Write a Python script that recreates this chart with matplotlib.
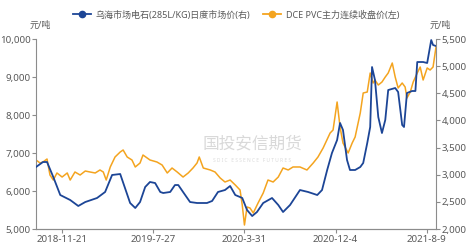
"""
PVC futures vs Wuhai calcium carbide spot price, dual axis line chart.
Saves: out.png (472x250)
"""

import pandas as pd
import matplotlib.pyplot as plt
import matplotlib.dates as mdates
from matplotlib.patches import Rectangle
from matplotlib.lines import Line2D
from matplotlib.ticker import FuncFormatter, FixedLocator

plt.rcParams["font.family"] = ["Noto Sans", "Noto Sans CJK SC", "DejaVu Sans"]

# ─── Data ────────────────────────────────────────────────────────────────────
pvc_dates = [
    "2018-09-11", "2018-09-22", "2018-09-30", "2018-10-11", "2018-10-19", "2018-10-28",
    "2018-11-07", "2018-11-21", "2018-12-05", "2018-12-13", "2018-12-26", "2019-01-09",
    "2019-01-23", "2019-02-05", "2019-02-19", "2019-03-04", "2019-03-13", "2019-03-21",
    "2019-04-01", "2019-04-14", "2019-04-28", "2019-05-06", "2019-05-17", "2019-05-30",
    "2019-06-08", "2019-06-21", "2019-06-29", "2019-07-18", "2019-08-06", "2019-08-20",
    "2019-09-03", "2019-09-16", "2019-09-30", "2019-10-16", "2019-10-30", "2019-11-12",
    "2019-11-23", "2019-11-29", "2019-12-10", "2019-12-29", "2020-01-11", "2020-01-25",
    "2020-02-07", "2020-02-21", "2020-03-06", "2020-03-19", "2020-03-25", "2020-03-31",
    "2020-04-07", "2020-04-15", "2020-04-24", "2020-05-07", "2020-05-21", "2020-06-03",
    "2020-06-17", "2020-07-01", "2020-07-14", "2020-07-28", "2020-08-10", "2020-08-29",
    "2020-09-17", "2020-10-04", "2020-10-17", "2020-10-31", "2020-11-19", "2020-11-27",
    "2020-12-08", "2020-12-16", "2020-12-24", "2021-01-07", "2021-01-18", "2021-01-26",
    "2021-02-09", "2021-02-17", "2021-02-28", "2021-03-08", "2021-03-16", "2021-03-21",
    "2021-03-30", "2021-04-09", "2021-04-18", "2021-04-26", "2021-05-07", "2021-05-15",
    "2021-05-23", "2021-06-03", "2021-06-11", "2021-06-16", "2021-06-25", "2021-07-03",
    "2021-07-14", "2021-07-22", "2021-07-30", "2021-08-10", "2021-08-18", "2021-08-26",
    "2021-09-03",
]
pvc_close = [
    6816, 6737, 6763, 6842, 6421, 6289,
    6474, 6368, 6474, 6289, 6500, 6421,
    6526, 6500, 6474, 6553, 6500, 6289,
    6632, 6895, 7026, 7079, 6895, 6816,
    6632, 6737, 6947, 6816, 6763, 6684,
    6474, 6605, 6500, 6368, 6474, 6605,
    6737, 6895, 6605, 6553, 6500, 6342,
    6237, 6289, 6158, 6026, 5632, 5105,
    5579, 5553, 5421, 5684, 5947, 6289,
    6237, 6368, 6605, 6553, 6632, 6632,
    6553, 6737, 6895, 7132, 7526, 7605,
    8342, 7684, 7263, 7000, 7263, 7421,
    8053, 8579, 8605, 9105, 8842, 8921,
    8789, 8868, 9000, 9105, 9368, 9000,
    8711, 8842, 8737, 8447, 8605, 8868,
    9105, 9263, 8921, 9237, 9184, 9263,
    9789,
]

carbide_dates = [
    "2018-09-11", "2018-09-30", "2018-10-11", "2018-10-28", "2018-11-16", "2018-12-13",
    "2019-01-04", "2019-01-23", "2019-02-24", "2019-03-18", "2019-04-06", "2019-04-28",
    "2019-05-25", "2019-06-08", "2019-06-21", "2019-07-05", "2019-07-18", "2019-08-01",
    "2019-08-15", "2019-08-23", "2019-09-11", "2019-09-24", "2019-10-03", "2019-10-16",
    "2019-11-04", "2019-11-23", "2019-12-20", "2020-01-03", "2020-01-19", "2020-02-07",
    "2020-02-21", "2020-03-06", "2020-03-19", "2020-03-25", "2020-04-07", "2020-04-21",
    "2020-05-04", "2020-05-21", "2020-06-14", "2020-07-01", "2020-07-14", "2020-08-02",
    "2020-08-29", "2020-09-20", "2020-10-15", "2020-10-28", "2020-11-11", "2020-11-24",
    "2020-12-08", "2020-12-16", "2020-12-24", "2021-01-04", "2021-01-12", "2021-01-26",
    "2021-02-09", "2021-02-17", "2021-02-28", "2021-03-08", "2021-03-13", "2021-03-21",
    "2021-03-30", "2021-04-09", "2021-04-18", "2021-04-26", "2021-05-15", "2021-05-23",
    "2021-06-03", "2021-06-08", "2021-06-16", "2021-06-30", "2021-07-09", "2021-07-14",
    "2021-07-30", "2021-08-10", "2021-08-21", "2021-08-26", "2021-09-03",
]
carbide_price = [
    3142, 3234, 3234, 2958, 2626, 2534,
    2424, 2497, 2571, 2682, 2995, 3013,
    2479, 2387, 2497, 2774, 2866, 2847,
    2682, 2663, 2682, 2810, 2810, 2682,
    2497, 2479, 2479, 2516, 2682, 2718,
    2792, 2626, 2589, 2571, 2350, 2239,
    2313, 2479, 2571, 2442, 2313, 2442,
    2718, 2682, 2626, 2718, 3087, 3400,
    3639, 3953, 3824, 3271, 3087, 3087,
    3142, 3216, 3584, 3879, 4984, 4745,
    4063, 3768, 4008, 4560, 4597, 4524,
    3916, 3879, 4505, 4542, 4542, 5076,
    5076, 5058, 5481, 5389, 5371,
]

xtick_dates = ["2018-11-21", "2019-07-27", "2020-03-31", "2020-12-04", "2021-08-09"]
xtick_labels = ["2018-11-21", "2019-7-27", "2020-3-31", "2020-12-4", "2021-8-9"]

pvc_label = "DCE PVC主力连续收盘价(左)"
carbide_label = "乌海市场电石(285L/KG)日度市场价(右)"

BLUE = "#1C4596"
ORANGE = "#F4A41F"
GREY = "#595959"
SPINE = "#8C8C8C"

# ─── Figure ──────────────────────────────────────────────────────────────────
fig = plt.figure(figsize=(4.72, 2.50), dpi=100)
ax = fig.add_axes([36 / 472, 1 - 229 / 250, 400 / 472, 190 / 250])
ax2 = ax.twinx()

ax.plot(pd.to_datetime(pvc_dates), pvc_close, color=ORANGE, linewidth=1.1)
ax2.plot(pd.to_datetime(carbide_dates), carbide_price, color=BLUE, linewidth=1.3)

ax.set_xlim(pd.Timestamp("2018-09-11"), pd.Timestamp("2021-09-03"))
ax.set_ylim(5000, 10000)
ax2.set_ylim(2000, 5500)
ax.set_yticks(range(5000, 10001, 1000))
ax2.set_yticks(range(2000, 5501, 500))
thousands = FuncFormatter(lambda v, p: f"{int(v):,}")
ax.yaxis.set_major_formatter(thousands)
ax2.yaxis.set_major_formatter(thousands)

ax.xaxis.set_major_locator(FixedLocator(mdates.date2num(pd.to_datetime(xtick_dates))))
ax.set_xticklabels(xtick_labels)

for a in (ax, ax2):
    a.spines["top"].set_visible(False)
    for s in ("left", "right", "bottom"):
        a.spines[s].set_color(SPINE)
        a.spines[s].set_linewidth(0.8)
    a.tick_params(axis="both", colors=SPINE, labelcolor=GREY, labelsize=7,
                  length=3, width=0.8, pad=1)
ax2.spines["left"].set_visible(False)
ax.spines["right"].set_visible(False)

# units
fig.text(40 / 472, 1 - 25 / 250, "元/吨", fontsize=6.5, color=GREY,
         ha="center", va="center")
fig.text(440 / 472, 1 - 25 / 250, "元/吨", fontsize=6.5, color=GREY,
         ha="center", va="center")

# legend
handles = [Line2D([], [], color=BLUE, linewidth=1.3, marker="o", markersize=4.5),
           Line2D([], [], color=ORANGE, linewidth=1.3, marker="o", markersize=4.5)]
fig.legend(handles, [carbide_label, pvc_label], loc="center", ncol=2,
           bbox_to_anchor=(0.5, 1 - 15 / 250), frameon=False, fontsize=6.5,
           handlelength=2.0, handletextpad=0.5, columnspacing=1.5,
           labelcolor=GREY)

# watermark
fig.add_artist(Rectangle((175 / 472, 1 - 152 / 250), 18 / 472, 17 / 250,
                         transform=fig.transFigure, color="#F3D7AE", alpha=0.6,
                         zorder=0, linewidth=0))
fig.add_artist(Rectangle((163 / 472, 1 - 163 / 250), 22 / 472, 18 / 250,
                         transform=fig.transFigure, color="#C9D6EA", alpha=0.6,
                         zorder=0, linewidth=0))
fig.text(252 / 472, 1 - 144 / 250, "国投安信期货", fontsize=12, color="#D0D0D0",
         alpha=0.8, ha="center", va="center")
fig.text(252 / 472, 1 - 160 / 250, "S D I C   E S S E N C E   F U T U R E S",
         fontsize=3.5, color="#D0D0D0", alpha=0.8, ha="center", va="center")

plt.savefig("out.png", dpi=100, facecolor="white")
plt.close()
